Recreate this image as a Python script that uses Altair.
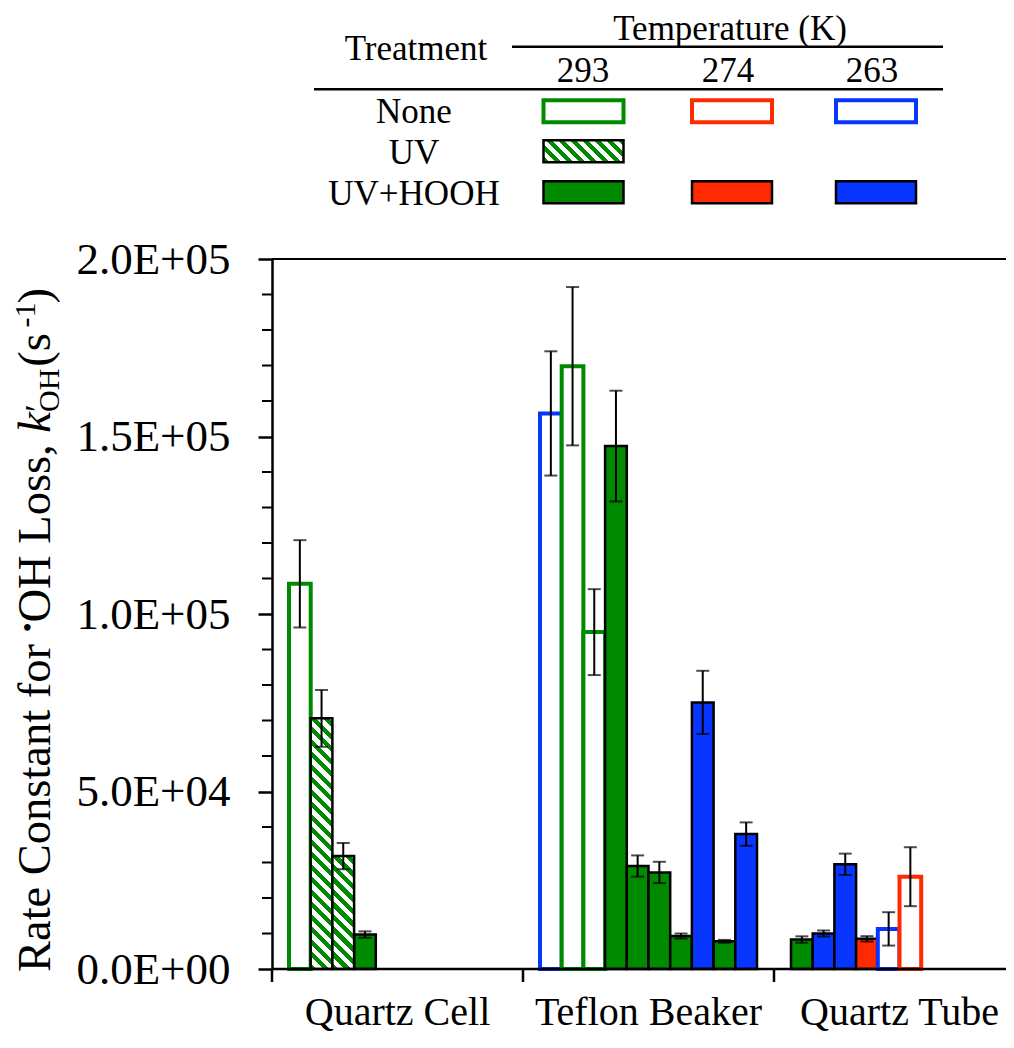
import altair as alt
import pandas as pd

# ---------------- data ----------------
groups = ["Quartz Cell", "Teflon Beaker", "Quartz Tube"]

qc_treat = ["None", "UV", "UV", "UV+HOOH"]
qc_temp = [293, 293, 293, 293]
qc_val = [108500, 70600, 31800, 9700]
qc_err = [12300, 8000, 3700, 900]

tb_treat = ["None", "None", "None", "UV+HOOH", "UV+HOOH", "UV+HOOH",
            "UV+HOOH", "UV+HOOH", "UV+HOOH", "UV+HOOH"]
tb_temp = [263, 293, 293, 293, 293, 293, 293, 263, 293, 263]
tb_val = [156500, 169800, 94900, 147300, 29000, 27200, 9300, 75100, 7800, 38000]
tb_err = [17500, 22300, 12100, 15600, 3000, 3000, 700, 8900, 400, 3300]

qt_treat = ["UV+HOOH", "UV+HOOH", "UV+HOOH", "UV+HOOH", "None", "None"]
qt_temp = [293, 263, 263, 274, 263, 274]
qt_val = [8300, 10000, 29500, 8500, 11300, 26000]
qt_err = [900, 850, 3000, 750, 4700, 8300]

temps = [293, 274, 263]
temp_colors = ["#008a00", "#ff2a00", "#0836ff"]
treatments = ["None", "UV", "UV+HOOH"]
legend_cells = [("None", 293), ("None", 274), ("None", 263), ("UV", 293),
                ("UV+HOOH", 293), ("UV+HOOH", 274), ("UV+HOOH", 263)]

y_major = [0, 50000, 100000, 150000, 200000]
y_major_labels = ["0.0E+00", "5.0E+04", "1.0E+05", "1.5E+05", "2.0E+05"]
y_minor = [10000, 20000, 30000, 40000, 60000, 70000, 80000, 90000,
           110000, 120000, 130000, 140000, 160000, 170000, 180000, 190000]

legend_title = "Temperature (K)"
treat_title = "Treatment"

# ---------------- layout / style ----------------
FONT = "Liberation Serif"
W_PLOT = 734
H_PLOT = 710
PAD = {"left": 264, "top": 251, "right": 0, "bottom": 65}
X_RANGE = [0, 753]
SLOT_RANGE = [17, 234]
N_SLOTS = 10
Y_MAX = 200000
color_of = dict(zip(temps, temp_colors))

# ---------------- tables ----------------
rows = []
for g, tr, tp, vv, ee in [(groups[0], qc_treat, qc_temp, qc_val, qc_err),
                          (groups[1], tb_treat, tb_temp, tb_val, tb_err),
                          (groups[2], qt_treat, qt_temp, qt_val, qt_err)]:
    for i, (a, b, c, d) in enumerate(zip(tr, tp, vv, ee)):
        rows.append({"group": g, "slot": i, "treat": a, "temp": b,
                     "val": c, "lo": c - d, "hi": c + d})
df = pd.DataFrame(rows)
df["fill"] = [color_of[t] if tr == "UV+HOOH" else "white" for t, tr in zip(df.temp, df.treat)]
df["stroke"] = ["black" if tr == "UV+HOOH" else color_of[t] for t, tr in zip(df.temp, df.treat)]
df["sw"] = [2.5 if tr == "UV+HOOH" else 4 for tr in df.treat]

xscale = alt.Scale(domain=groups, range=X_RANGE, paddingInner=0, paddingOuter=0)
oscale = alt.Scale(domain=list(range(N_SLOTS)), range=SLOT_RANGE, paddingInner=0, paddingOuter=0)
yscale = alt.Scale(domain=[0, Y_MAX], nice=False, zero=True)

label_expr = " : ".join(
    f"datum.value == {v} ? '{l}'" for v, l in zip(y_major, y_major_labels)) + " : ''"

x_axis = alt.Axis(domain=False, ticks=False, labelFont=FONT, labelFontSize=40,
                  labelColor="black", labelPadding=23, labelAngle=0,
                  labelLimit=400, labelOverlap=False, grid=False, title=None)
y_axis = alt.Axis(values=y_major, labelExpr=label_expr, tickSize=14, tickWidth=2.5,
                  tickColor="black", domainColor="black", domainWidth=2.5,
                  labelFont=FONT, labelFontSize=45, labelColor="black",
                  labelPadding=28, labelLimit=400, grid=False, title=None)


def X(**kw):
    return alt.X("group:N", scale=xscale, axis=x_axis, **kw)


def Y(field):
    return alt.Y(f"{field}:Q", scale=yscale, axis=y_axis)


xo = alt.XOffset("slot:O", scale=oscale)


def hatch(W, H, period=12.5, frac=0.5, color=temp_colors[0]):
    n = (W + H) / period
    lam = (W + H) / (W * W + H * H)
    stops = []
    i = 0
    while i < n:
        a = i / n
        b = min((i + frac) / n, 1.0)
        c = min((i + 1) / n, 1.0)
        stops += [{"color": color, "offset": a}, {"color": color, "offset": b},
                  {"color": "white", "offset": b}, {"color": "white", "offset": c}]
        i += 1
    return {"gradient": "linear", "x1": 0, "y1": 1, "x2": lam * W, "y2": 1 - lam * H,
            "stops": stops}


layers = []

# solid / outline bars
plain = df[df.treat != "UV"]
layers.append(
    alt.Chart(plain).mark_bar().encode(
        x=X(), xOffset=xo, y=Y("val"),
        fill=alt.Fill("fill:N", scale=None, legend=None),
        stroke=alt.Stroke("stroke:N", scale=None, legend=None),
        strokeWidth=alt.StrokeWidth("sw:Q", scale=None, legend=None),
    )
)

# hatched bars (UV)
slot_w = (SLOT_RANGE[1] - SLOT_RANGE[0]) / N_SLOTS
for _, r in df[df.treat == "UV"].iterrows():
    H = r.val / Y_MAX * H_PLOT
    layers.append(
        alt.Chart(pd.DataFrame([r])).mark_bar(
            fill=hatch(slot_w, H), stroke="black", strokeWidth=2.5
        ).encode(x=X(), xOffset=xo, y=Y("val"))
    )

# error bars
layers.append(
    alt.Chart(df).mark_rule(color="black", strokeWidth=2).encode(
        x=X(), xOffset=xo, y=Y("lo"), y2="hi:Q")
)
for f in ["lo", "hi"]:
    layers.append(
        alt.Chart(df).mark_tick(color="black", thickness=2, size=13).encode(
            x=X(), xOffset=xo, y=Y(f))
    )

# frame: baseline, top line, minor ticks, group ticks
layers.append(
    alt.Chart(pd.DataFrame({"v": [0]})).mark_rule(color="black", strokeWidth=2.5).encode(
        y=Y("v"), x=alt.value(0), x2=alt.value(X_RANGE[1]))
)
layers.append(
    alt.Chart(pd.DataFrame({"v": [Y_MAX]})).mark_rule(color="black", strokeWidth=2).encode(
        y=Y("v"), x=alt.value(0), x2=alt.value(X_RANGE[1] - 13))
)
layers.append(
    alt.Chart(pd.DataFrame({"v": y_minor})).mark_rule(color="black", strokeWidth=2).encode(
        y=Y("v"), x=alt.value(-10), x2=alt.value(0))
)
layers.append(
    alt.Chart(pd.DataFrame({"group": groups})).mark_rule(color="black", strokeWidth=2.5).encode(
        x=X(bandPosition=0), y=alt.value(H_PLOT), y2=alt.value(H_PLOT + 13))
)

# ---------------- y title (rich text) ----------------
TW = {' ': 250, 'R': 667, 'a': 444, 't': 278, 'e': 444, 'C': 667, 'o': 500, 'n': 500,
      's': 389, 'f': 333, 'r': 333, 'O': 722, 'H': 722, 'L': 611, ',': 250, '(': 333,
      ')': 333, '-': 333, '1': 500, '\u2022': 350, 'k': 500}


def tw(s, size, italic=False):
    return sum((444 if (italic and c == 'k') else TW.get(c, 500)) for c in s) * size / 1000


TS = 46.5
title_parts = [  # text, size, shift (+ = raised), italic, advance, kern
    ("Rate Constant for ", TS, 0, False, True, 0),
    ("\u2022", 28, 13, False, True, 0),
    ("OH Loss, ", TS, 0, False, True, 0),
    ("k", TS, 0, True, True, 0),
    ("\u2032", 36, 0, False, False, 0),
    ("OH", 30, -9, False, True, 2),
    (" (s", TS, 0, False, True, -6),
    ("-1", 30, 15, False, True, -1),
    (")", TS, 0, False, True, 0),
]
TX = -222
ty = H_PLOT + 3
for txt, size, shift, ital, adv, kern in title_parts:
    layers.append(
        alt.Chart(pd.DataFrame({"t": [txt]})).mark_text(
            font=FONT, fontSize=size, angle=270, align="left", baseline="alphabetic",
            color="black", fontStyle="italic" if ital else "normal"
        ).encode(x=alt.value(TX - shift), y=alt.value(ty), text="t:N")
    )
    if adv:
        ty -= tw(txt, size, ital) + kern


# ---------------- legend table ----------------
def text_layer(s, cx, by, size=35):
    return alt.Chart(pd.DataFrame({"t": [s]})).mark_text(
        font=FONT, fontSize=size, align="center", baseline="alphabetic", color="black"
    ).encode(x=alt.value(cx), y=alt.value(by), text="t:N")


layers.append(text_layer(legend_title, 458, -219))
layers.append(text_layer(treat_title, 144, -199))
col_text_x = [311, 456, 600]
for t, cx in zip(temps, col_text_x):
    layers.append(text_layer(str(t), cx, -177.3))
row_base_y = [-135.7, -95, -54]
for tr, by in zip(treatments, row_base_y):
    layers.append(text_layer(tr, 142, by))

for x1, x2, yy in [(240, 671, -212.3), (42, 671, -169.7)]:
    layers.append(
        alt.Chart(pd.DataFrame({"v": [0]})).mark_rule(color="black", strokeWidth=2.5).encode(
            x=alt.value(x1), x2=alt.value(x2), y=alt.value(yy))
    )

col_sw_x = dict(zip(temps, [311.5, 460, 604]))
row_sw_y = dict(zip(treatments, [-147.8, -107.7, -66.7]))
SW_W, SW_H = 80, 22
for tr, tp in legend_cells:
    cx, cy = col_sw_x[tp], row_sw_y[tr]
    if tr == "None":
        props = dict(fill="white", stroke=color_of[tp], strokeWidth=4)
    elif tr == "UV":
        props = dict(fill=hatch(SW_W, SW_H, period=12), stroke="black", strokeWidth=2.5)
    else:
        props = dict(fill=color_of[tp], stroke="black", strokeWidth=2.5)
    layers.append(
        alt.Chart(pd.DataFrame({"treat": [tr], "temp": [tp]})).mark_rect(**props).encode(
            x=alt.value(cx - SW_W / 2), x2=alt.value(cx + SW_W / 2),
            y=alt.value(cy - SW_H / 2), y2=alt.value(cy + SW_H / 2))
    )

chart = alt.layer(*layers).properties(
    width=W_PLOT, height=H_PLOT,
    padding=PAD,
    autosize=alt.AutoSizeParams(type="none"),
).configure_view(stroke=None)

chart.save("out.html", embed_options={"renderer": "svg", "actions": False})
